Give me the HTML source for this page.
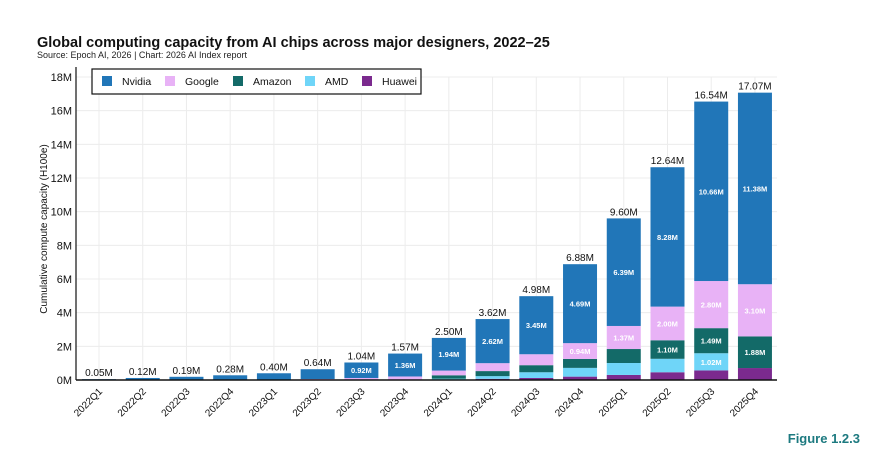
<!DOCTYPE html>
<html><head><meta charset="utf-8"><style>
body{margin:0;background:#fff;width:886px;height:456px;overflow:hidden;font-family:"Liberation Sans",sans-serif}
svg{display:block}
</style></head><body>
<svg id="chart" width="886" height="456" font-family="Liberation Sans, sans-serif">
<text x="37" y="47" font-size="14.5" font-weight="bold" fill="#111">Global computing capacity from AI chips across major designers, 2022–25</text>
<text x="37" y="58" font-size="9" fill="#222">Source: Epoch AI, 2026 | Chart: 2026 AI Index report</text>
<g id="grid"></g><g id="bars"></g><g id="axes"></g>
<text transform="translate(47,229) rotate(-90)" text-anchor="middle" font-size="10" fill="#111">Cumulative compute capacity (H100e)</text>
<g>
<rect x="92" y="69" width="329" height="25" fill="#fff" stroke="#111" stroke-width="1.2"/>
<g id="legend"></g></g>
<text x="860" y="443" text-anchor="end" font-size="13" font-weight="bold" fill="#1d7a80">Figure 1.2.3</text>
</svg>
<script>
const categories=["2022Q1","2022Q2","2022Q3","2022Q4","2023Q1","2023Q2","2023Q3","2023Q4","2024Q1","2024Q2","2024Q3","2024Q4","2025Q1","2025Q2","2025Q3","2025Q4"];
const seriesNames=["Huawei","AMD","Amazon","Google","Nvidia"];
const huawei=[0,0,0,0,0,0,0,0,0.02,0.07,0.12,0.2,0.3,0.46,0.57,0.71];
const amd=[0,0,0,0,0,0,0,0,0.06,0.16,0.34,0.52,0.71,0.8,1.02,0];
const amazon=[0,0,0,0,0,0.01,0.02,0.02,0.2,0.3,0.42,0.53,0.83,1.1,1.49,1.88];
const google=[0,0,0,0,0,0.05,0.1,0.19,0.28,0.47,0.65,0.94,1.37,2.0,2.8,3.1];
const nvidia=[0.05,0.12,0.19,0.28,0.4,0.58,0.92,1.36,1.94,2.62,3.45,4.69,6.39,8.28,10.66,11.38];
const totals=[0.05,0.12,0.19,0.28,0.40,0.64,1.04,1.57,2.50,3.62,4.98,6.88,9.60,12.64,16.54,17.07];
const yTicks=[0,2,4,6,8,10,12,14,16,18];
const colors={Nvidia:"#2176b8",Google:"#e8b2f6",Amazon:"#136a68",AMD:"#6fd5f8",Huawei:"#7b2a8e"};
const legendOrder=["Nvidia","Google","Amazon","AMD","Huawei"];

const NS="http://www.w3.org/2000/svg";
const x0=76,x1=777,y0=380,yTop=77,yMax=18,step=43.73,bw=34,firstLeft=82;
const y=v=>y0-(v/yMax)*(y0-yTop);
const xc=i=>firstLeft+bw/2+i*step;
function mk(tag,attrs,parent){const e=document.createElementNS(NS,tag);for(const k in attrs)e.setAttribute(k,attrs[k]);parent.appendChild(e);return e;}
const grid=document.getElementById('grid'),bars=document.getElementById('bars'),axes=document.getElementById('axes'),legend=document.getElementById('legend');
yTicks.forEach(t=>{
  const l=mk('line',{x1:x0,x2:x1,y1:y(t),y2:y(t),stroke:"#ececec","stroke-width":1},grid);
  
  
  const tx=mk('text',{x:x0-4,y:y(t)+4,"text-anchor":"end","font-size":"11",fill:"#111"},axes);
  tx.textContent=t+"M";
  
  
});
categories.forEach((c,i)=>{
  const l=mk('line',{x1:xc(i),x2:xc(i),y1:yTop,y2:y0,stroke:"#ececec","stroke-width":1},grid);
  
  
});
const data={Huawei:huawei,AMD:amd,Amazon:amazon,Google:google,Nvidia:nvidia};
categories.forEach((c,i)=>{
  let acc=0;
  seriesNames.forEach(s=>{
    const v=data[s][i];
    if(v>0){
      const r=mk('rect',{x:xc(i)-bw/2,y:y(acc+v),width:bw,height:y(acc)-y(acc+v),fill:colors[s]},bars);
      
      
      if(v>=0.9){
        const t=mk('text',{x:xc(i),y:(y(acc)+y(acc+v))/2+3,"text-anchor":"middle","font-size":"7.5","font-weight":"bold",fill:"#fff"},bars);
        t.textContent=v.toFixed(2)+"M";
        
        
      }
    }
    acc+=v;
  });
  const tt=mk('text',{x:xc(i),y:y(totals[i])-3,"text-anchor":"middle","font-size":"10",fill:"#111"},bars);
  tt.textContent=totals[i].toFixed(2)+"M";
  
  
  const xl=mk('text',{transform:`translate(${xc(i)+4},${y0+12}) rotate(-45)`,"text-anchor":"end","font-size":"10",fill:"#111"},axes);
  xl.textContent=c;
  
  
});
const ya=mk('line',{x1:x0,x2:x0,y1:yTop-10,y2:y0,stroke:"#111","stroke-width":1.2},axes);


const xa=mk('line',{x1:x0,x2:x1,y1:y0,y2:y0,stroke:"#111","stroke-width":1.5},axes);


const lx=[102,165,233,305,362];
legendOrder.forEach((s,k)=>{
  const r=mk('rect',{x:lx[k],y:76,width:10,height:10,fill:colors[s]},legend);
  
  
  const t=mk('text',{x:lx[k]+20,y:85,"font-size":"10.5",fill:"#111"},legend);
  t.textContent=s;
  
  
});
</script>
</body></html>
